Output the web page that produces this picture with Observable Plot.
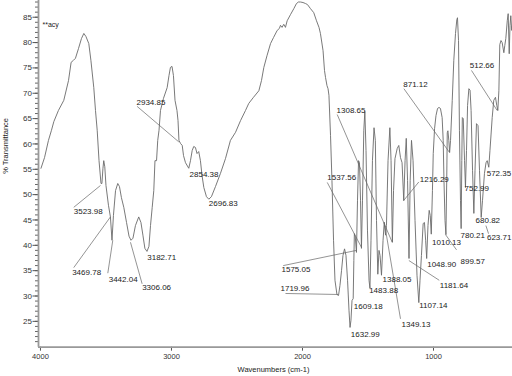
<!DOCTYPE html>
<html><head><meta charset="utf-8">
<script src="https://cdn.jsdelivr.net/npm/d3@7"></script>
<script src="https://cdn.jsdelivr.net/npm/@observablehq/plot@0.6"></script>
<style>body{margin:0;background:#fff}#chart svg{display:block}</style>
</head><body><div id="chart"></div>
<script>
// Spectrum: wavenumber (cm-1) and % transmittance
const wavenumber = [
3996,3969,3939,3916,3898,3863,3822,3786,3766,3748,
3733,3710,3687,3669,3653,3631,3615,3593,3580,3567,
3553,3538,3531,3523,3517,3509,3500,3481,3466,3454,
3443,3427,3410,3397,3382,3364,3343,3324,3309,3294,
3275,3250,3233,3218,3203,3187,3172,3160,3147,3135,
3126,3114,3105,3095,3084,3061,3033,3019,3008,2996,
2985,2973,2958,2950,2943,2931,2918,2908,2893,2868,
2855,2842,2830,2817,2805,2792,2779,2767,2753,2733,
2715,2695,2664,2626,2588,2550,2511,2473,2435,2410,
2374,2333,2313,2295,2271,2244,2221,2193,2176,2168,
2156,2143,2130,2117,2092,2066,2046,2031,2015,1996,
1977,1962,1939,1914,1893,1874,1863,1843,1832,1824,
1813,1805,1798,1786,1775,1763,1752,1737,1725,1714,
1702,1691,1679,1668,1656,1645,1637,1630,1622,1613,
1608,1604,1597,1588,1580,1572,1565,1557,1550,
1542,1532,1524,1515,1504,1492,1485,1477,1466,1454,
1444,1435,1425,1416,1408,1397,1385,1376,1366,1359,
1347,1333,1324,1314,1305,1294,1277,1265,1252,1240,
1227,1217,1208,1198,1187,1178,1168,1156,1141,1126,
1112,1103,1092,1079,1069,1060,1052,1042,1033,1025,
1017,1008,1002,992,981,969,958,947,934,926,
920,912,905,899,895,890,883,877,870,857,
845,832,822,817,809,802,794,789,784,780,
773,763,756,748,740,730,721,713,702,692,
683,672,660,649,636,626,611,599,590,578,
569,552,540,527,517,509,501,494,485,476,
463,456,448,437,430,422,416,410,403,397];
const transmittance = [
55.2,57.3,60.7,62.7,64.4,66.6,68.6,72.5,76.1,76.5,
76.9,78.8,80.8,81.8,81.2,79.8,76.5,71.1,66.6,62.7,
56.7,52.2,52.2,55.2,56.7,55.5,51.8,47.9,45.6,41.0,
45.9,50.8,52.2,51.6,49.4,47.5,44.5,41.8,41.0,41.4,
43.9,45.6,44.5,42.0,39.4,38.8,39.8,43.9,47.5,50.8,
56.7,56.7,60.7,62.7,66.6,69.0,71.1,73.5,75.1,75.3,
73.5,68.6,66.6,64.6,60.7,60.1,59.7,57.7,56.3,55.2,
56.7,58.7,59.5,59.3,58.1,58.5,56.7,53.8,51.4,49.6,
49.1,49.6,51.6,54.2,57.1,60.7,62.3,64.6,66.6,68.0,
69.2,70.5,72.5,75.1,77.4,79.8,81.0,82.4,82.8,83.4,
83.0,83.6,83.0,84.3,85.5,86.7,87.7,88.0,88.0,87.9,
87.7,87.5,86.7,85.9,84.3,83.0,81.8,78.4,74.5,73.1,
71.5,70.9,69.6,61.7,52.8,41.0,33.1,30.3,30.1,32.1,
35.0,38.0,39.3,38.0,33.1,27.2,23.8,25.2,29.1,29.5,
37.0,42.3,41.7,38.6,48.9,56.7,56.3,48.9,39.4,
48.9,62.7,66.4,58.7,43.0,33.1,31.5,41.0,56.7,63.2,
60.7,44.9,34.3,39.0,38.0,34.1,41.0,44.5,42.0,43.9,
56.7,63.2,56.7,40.6,50.8,57.1,59.1,59.7,57.3,56.3,
48.8,56.7,61.1,52.8,37.4,52.8,60.7,56.7,44.9,34.1,
28.7,33.1,38.0,44.3,44.5,41.0,37.4,43.9,46.9,45.9,
42.2,50.8,58.1,63.0,65.6,67.0,67.2,67.0,65.2,60.7,
52.8,44.9,42.1,52.8,62.2,62.6,60.7,58.3,60.7,68.6,
76.5,81.8,84.5,84.9,80.4,62.7,48.8,43.3,56.7,65.2,
65.0,56.7,51.4,58.7,67.6,70.9,70.6,66.6,54.8,46.3,
54.8,64.0,63.6,54.8,45.5,48.8,54.2,56.3,56.7,55.4,
58.7,65.2,68.6,69.2,67.6,66.6,70.5,79.6,80.4,80.0,
78.0,79.4,80.8,84.3,85.7,77.8,83.4,85.3,82.4,83.4];

// Peak labels (text placed at wavenumber / transmittance)
const peakLabels = ["3523.98","3469.78","3442.04","3306.06","3182.71","2934.85","2854.38","2696.83",
  "1308.65","1537.56","1216.29","871.12","512.66","572.35","752.99","780.21","680.82","623.71",
  "1010.13","899.57","1048.90","1181.64","1107.14","1349.13","1388.05","1483.88","1609.18","1632.99",
  "1575.05","1719.96"];
const labelWn = [3746,3758,3479,3224,3185,3267,2862,2715,
  1740,1811,1104,1231,723,594,763,794,679,592,
  1011,794,1048,952,1109,1244,1389,1491,1608,1631,
  2160,2168];
const labelT = [46.7,34.7,33.2,31.6,37.7,68.1,53.9,48.2,
  66.7,53.3,52.9,71.7,75.5,54.2,51.2,42.0,44.9,41.6,
  40.6,36.8,36.2,32.1,28.2,24.4,33.2,31.0,28.0,22.4,
  35.2,31.4];

// Leader lines from label to band
const leaderWn1 = [3746,3746,3486,3224,3262,1735,1811,1112,1226,710,600,824,956,1252,2147,2130];
const leaderT1  = [47.5,35.6,34.5,32.4,67.4,65.8,52.4,52.5,70.9,74.5,43.9,39.1,33.1,25.5,36.0,30.5];
const leaderWn2 = [3542,3466,3448,3313,2944,1315,1550,1226,880,514,580,908,1188,1376,1588,1727];
const leaderT2  = [51.8,45.6,41.0,40.6,60.4,40.6,39.6,48.9,58.4,66.6,42.3,42.1,37.0,44.6,39.0,30.3];

const xTicks = [4000, 3000, 2000, 1000];
const yTicks = [25, 30, 35, 40, 45, 50, 55, 60, 65, 70, 75, 80, 85];
const yMinor = d3.range(21, 89, 1);

const spectrum = wavenumber.map((w, i) => ({w, t: transmittance[i]}));
const labels = peakLabels.map((s, i) => ({s, w: labelWn[i], t: labelT[i]}));
const leaders = leaderWn1.map((w1, i) => ({w1, t1: leaderT1[i], w2: leaderWn2[i], t2: leaderT2[i]}));

const font = "'Liberation Sans', Arial, Helvetica, sans-serif";
const chart = Plot.plot({
  width: 512, height: 376,
  marginLeft: 38, marginRight: 0, marginTop: 0, marginBottom: 29.3,
  style: {fontFamily: font, fontSize: "7.5px", color: "#222", background: "#fff"},
  x: {domain: [4015, 397], label: null},
  y: {domain: [19.9, 88.3], label: null},
  marks: [
    Plot.axisY(yMinor, {tickSize: 3, tickFormat: () => "", stroke: "#666", label: null}),
    Plot.axisY(yTicks, {tickSize: 5.5, tickPadding: 1, fontSize: 8, stroke: "#555", fill: "#333", label: null}),
    Plot.axisX(xTicks, {tickSize: 4, tickPadding: 2.5, fontSize: 7.5, stroke: "#555", fill: "#333", label: null, tickFormat: d3.format("d")}),
    Plot.ruleX([4015], {stroke: "#999", strokeWidth: 1.8}),
    Plot.ruleY([19.9], {stroke: "#999", strokeWidth: 1.8}),
    Plot.line(spectrum, {x: "w", y: "t", stroke: "#6a6a6a", strokeWidth: 0.9}),
    Plot.link(leaders, {x1: "w1", y1: "t1", x2: "w2", y2: "t2", stroke: "#666", strokeWidth: 0.7}),
    Plot.text(labels, {x: "w", y: "t", text: "s", textAnchor: "start", fontSize: 8, fill: "#222"}),
    Plot.text(["**acy"], {frameAnchor: "top-left", dx: 4, dy: 22, fontSize: 7, textAnchor: "start", fill: "#222"}),
    Plot.text(["% Transmittance"], {frameAnchor: "left", dx: -33, rotate: -90, fontSize: 7.5, fill: "#222"}),
    Plot.text(["Wavenumbers (cm-1)"], {frameAnchor: "bottom", dx: -2, dy: 25, fontSize: 7.5, fill: "#222"})
  ]
});
document.getElementById("chart").appendChild(chart);
</script>
</body></html>
